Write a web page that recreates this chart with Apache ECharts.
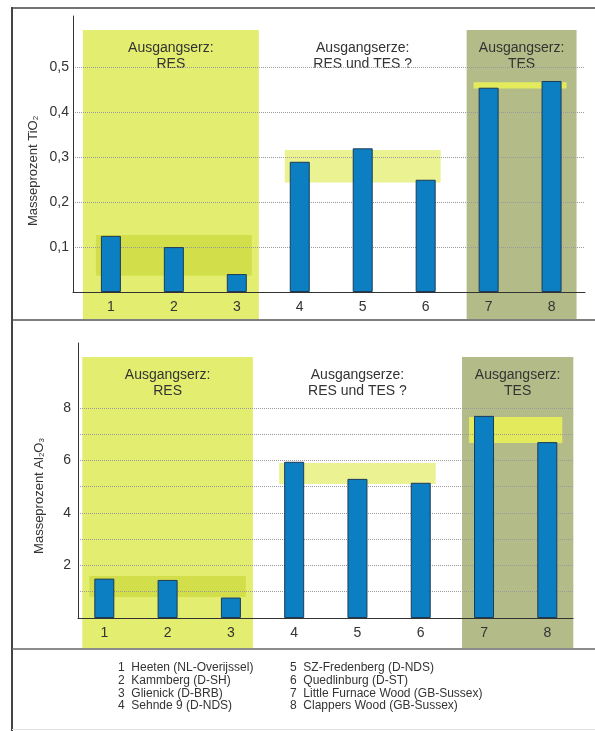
<!DOCTYPE html>
<html><head><meta charset="utf-8">
<script src="https://cdn.jsdelivr.net/npm/echarts@6/dist/echarts.min.js"></script>
<style>html,body{margin:0;padding:0;background:#fff}#c{width:595px;height:731px}</style>
</head><body><div id="c"></div>
<script>
// ---- data ----
const categories = [1, 2, 3, 4, 5, 6, 7, 8];
const tio2Values = [0.125, 0.10, 0.04, 0.29, 0.32, 0.25, 0.455, 0.47];
const al2o3Values = [1.5, 1.45, 0.78, 5.95, 5.3, 5.15, 7.7, 6.7];
const tio2GridLines = [0.1, 0.2, 0.3, 0.4, 0.5];
const tio2TickLabels = [0.1, 0.2, 0.3, 0.4, 0.5];
const al2o3GridLines = [1, 2, 3, 4, 5, 6, 7, 8];
const al2o3TickLabels = [2, 4, 6, 8];
const groupFrom = [1, 4, 7];
const groupTo = [3, 6, 8];
const groupTitles = ['Ausgangserz:\nRES', 'Ausgangserze:\nRES und TES ?', 'Ausgangserz:\nTES'];
const tio2RangeLow = [0.036, 0.244, 0.453];
const tio2RangeHigh = [0.127, 0.316, 0.467];
const al2o3RangeLow = [0.8, 5.1, 6.67];
const al2o3RangeHigh = [1.6, 5.9, 7.66];
const siteNames = ['Heeten (NL-Overijssel)', 'Kammberg (D-SH)', 'Glienick (D-BRB)', 'Sehnde 9 (D-NDS)',
  'SZ-Fredenberg (D-NDS)', 'Quedlinburg (D-ST)', 'Little Furnace Wood (GB-Sussex)', 'Clappers Wood (GB-Sussex)'];
const tio2AxisName = 'Masseprozent TiO{s|2}';
const al2o3AxisName = 'Masseprozent Al{s|2}O{s|3}';

// ---- styles ----
const FONT = '"Liberation Sans", Arial, sans-serif';
const TXT = '#333';
const colFill = ['#e3ed6f', null, '#b3bc88'];
const bandFill = ['#d3df4a', '#eaf291', '#e3eb5c'];
const panels = [
  { grid: { left: 73, top: 16, right: 10, height: 276 }, xMin: 0.398, xMax: 8.531, yMax: 0.6147,
    padL: [28, 0, 22], padR: [22, 0, 25], below: 27, bandPad: 15,
    values: tio2Values, gridLines: tio2GridLines, tickLabels: tio2TickLabels,
    lo: tio2RangeLow, hi: tio2RangeHigh, fmt: v => v.toFixed(1).replace('.', ','), labelMargin: 4 },
  { grid: { left: 78, top: 343, right: 22, height: 275 }, xMin: 0.584, xMax: 8.406, yMax: 10.476,
    padL: [22, 0, 22], padR: [22, 0, 26], below: 30, bandPad: 15,
    values: al2o3Values, gridLines: al2o3GridLines, tickLabels: al2o3TickLabels,
    lo: al2o3RangeLow, hi: al2o3RangeHigh, fmt: v => String(v), labelMargin: 7 }
];

const grids = [], xAxes = [], yAxes = [], series = [];
panels.forEach((p, k) => {
  grids.push(p.grid);
  xAxes.push({ type: 'value', gridIndex: k, min: p.xMin, max: p.xMax, z: 10,
    axisLine: { show: true, onZero: false, lineStyle: { color: '#333', width: 1 } },
    axisTick: { show: false }, splitLine: { show: false },
    axisLabel: { customValues: categories, color: TXT, fontSize: 14, fontFamily: FONT, margin: 8 } });
  yAxes.push({ type: 'value', gridIndex: k, min: 0, max: p.yMax, z: 10,
    axisLine: { show: true, onZero: false, lineStyle: { color: '#333', width: 1 } },
    axisTick: { show: false }, splitLine: { show: false },
    axisLabel: { customValues: p.tickLabels, formatter: p.fmt, color: TXT, fontSize: 14, fontFamily: FONT, margin: p.labelMargin } });
  // background columns + titles
  series.push({ type: 'custom', xAxisIndex: k, yAxisIndex: k, z: 1, silent: true, clip: false,
    data: groupFrom.map((f, i) => [f, groupTo[i], i]),
    encode: { x: [0, 1], y: 2 },
    renderItem: (params, api) => {
      const i = api.value(2);
      const cs = params.coordSys;
      const cx0 = api.coord([api.value(0), 0])[0];
      const cx1 = api.coord([api.value(1), 0])[0];
      const x0 = cx0 - p.padL[i], x1 = cx1 + p.padR[i];
      const top = cs.y + 14, bottom = cs.y + cs.height + p.below;
      const ch = [];
      let cx = (cx0 + cx1) / 2;
      if (colFill[i]) {
        ch.push({ type: 'rect', shape: { x: x0, y: top, width: x1 - x0, height: bottom - top }, style: { fill: colFill[i] } });
        cx = (x0 + x1) / 2;
      }
      ch.push({ type: 'text', x: cx, y: top + 10, style: { text: groupTitles[i], align: 'center', verticalAlign: 'top',
        fontSize: 14, fontFamily: FONT, lineHeight: 16, fill: TXT } });
      return { type: 'group', children: ch };
    } });
  // range bands
  series.push({ type: 'custom', xAxisIndex: k, yAxisIndex: k, z: 1.5, silent: true, clip: false,
    data: groupFrom.map((f, i) => [f, groupTo[i], p.lo[i], p.hi[i], i]),
    encode: { x: [0, 1], y: [2, 3] },
    renderItem: (params, api) => {
      const i = api.value(4);
      const a = api.coord([api.value(0), api.value(3)]);
      const b = api.coord([api.value(1), api.value(2)]);
      const x0 = a[0] - p.bandPad, x1 = b[0] + p.bandPad;
      return { type: 'rect', shape: { x: x0, y: a[1], width: x1 - x0, height: b[1] - a[1] }, style: { fill: bandFill[i] } };
    } });
  // bars + gridlines
  series.push({ type: 'bar', xAxisIndex: k, yAxisIndex: k, z: 3, barWidth: 20,
    data: categories.map((c, i) => [c, p.values[i]]),
    itemStyle: { color: '#0b7fc1', borderColor: '#1d3b57', borderWidth: 1 },
    markLine: { silent: true, z: 2, symbol: ['none', 'none'], label: { show: false },
      lineStyle: { type: 'dotted', color: '#9a9a9a', width: 1 },
      emphasis: { disabled: true },
      data: p.gridLines.map(v => ({ yAxis: v })) } });
});

const graphics = [
  { type: 'line', shape: { x1: 12, y1: 7, x2: 12, y2: 731 }, style: { stroke: '#444', lineWidth: 2 } },
  { type: 'line', shape: { x1: 11, y1: 8, x2: 595, y2: 8 }, style: { stroke: '#444', lineWidth: 1.5 } },
  { type: 'line', shape: { x1: 12, y1: 320, x2: 595, y2: 320 }, style: { stroke: '#555', lineWidth: 1.5 } },
  { type: 'line', shape: { x1: 12, y1: 649, x2: 595, y2: 649 }, style: { stroke: '#666', lineWidth: 1.5 } },
  { type: 'line', shape: { x1: 12, y1: 729.5, x2: 595, y2: 729.5 }, style: { stroke: '#e2e2e2', lineWidth: 1 } },
  { type: 'text', x: 33, y: 171, rotation: Math.PI / 2, style: { text: tio2AxisName, align: 'center', verticalAlign: 'middle',
      fontSize: 13, fontFamily: FONT, fill: TXT, rich: { s: { fontSize: 8, fontFamily: FONT, fill: TXT, verticalAlign: 'bottom', padding: [6, 0, 0, 0] } } } },
  { type: 'text', x: 39, y: 496, rotation: Math.PI / 2, style: { text: al2o3AxisName, align: 'center', verticalAlign: 'middle',
      fontSize: 13, fontFamily: FONT, fill: TXT, rich: { s: { fontSize: 8, fontFamily: FONT, fill: TXT, verticalAlign: 'bottom', padding: [6, 0, 0, 0] } } } }
];
siteNames.forEach((n, i) => {
  graphics.push({ type: 'text', x: i < 4 ? 118 : 290, y: 668 + (i % 4) * 12.7,
    style: { text: (i + 1) + '  ' + n, align: 'left', verticalAlign: 'middle', fontSize: 12, fontFamily: FONT, fill: TXT } });
});

const chart = echarts.init(document.getElementById('c'), null, { renderer: 'canvas' });
chart.setOption({ animation: false, backgroundColor: '#fff', grid: grids, xAxis: xAxes, yAxis: yAxes, series, graphic: graphics });
</script></body></html>
